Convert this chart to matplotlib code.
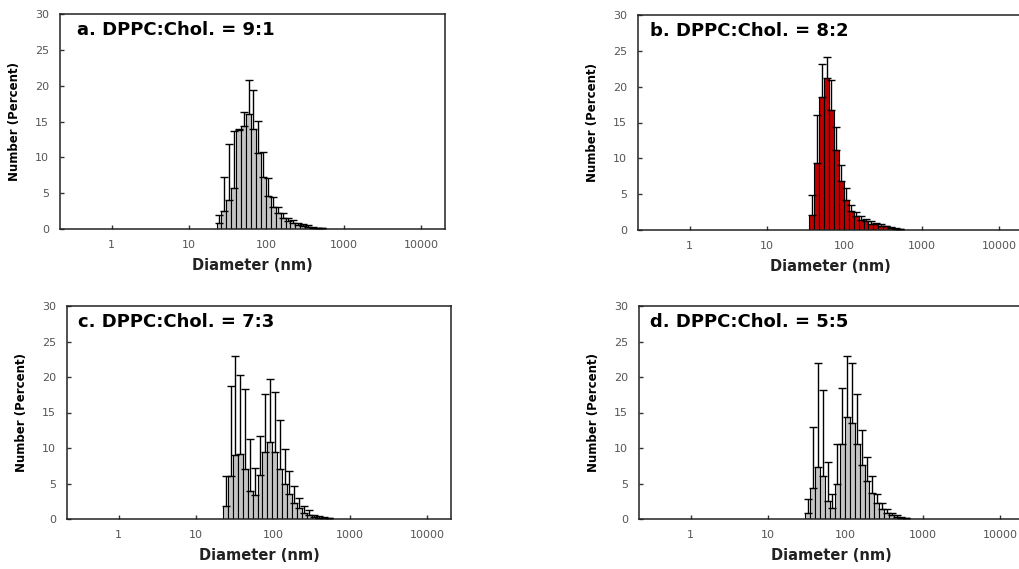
import matplotlib
matplotlib.use('Agg')
import matplotlib.pyplot as plt
import numpy as np

# Instrument size classes (nm), geometric spacing
size_classes = [21.04, 24.36, 28.21, 32.67, 37.84, 43.82, 50.75, 58.77, 68.06, 78.82,
                91.28, 105.7, 122.4, 141.8, 164.2, 190.1, 220.2, 255.0, 295.3, 342.0,
                396.1, 458.7, 531.2, 615.1, 712.4]

titles = ['a. DPPC:Chol. = 9:1', 'b. DPPC:Chol. = 8:2',
          'c. DPPC:Chol. = 7:3', 'd. DPPC:Chol. = 5:5']

# first size class of each panel (nm)
start_a, start_b, start_c, start_d = 24.36, 37.84, 24.36, 32.67

vals_a = [0.8, 2.5, 4.0, 5.7, 13.8, 14.4, 16.0, 14.0, 10.6, 7.2, 4.6, 3.1, 2.2, 1.5,
          1.1, 0.8, 0.6, 0.4, 0.3, 0.2, 0.1, 0.1]
err_a = [1.1, 4.8, 7.9, 8.0, 0.2, 1.9, 4.8, 5.4, 4.5, 3.6, 2.5, 1.3, 0.9, 0.7,
         0.5, 0.4, 0.3, 0.3, 0.2, 0.1, 0.1, 0.05]

vals_b = [2.1, 9.3, 18.6, 21.2, 16.8, 11.2, 6.8, 4.2, 2.6, 1.9, 1.4, 1.2, 0.9, 0.8,
          0.6, 0.5, 0.3, 0.2, 0.1]
err_b = [2.8, 6.8, 4.6, 3.0, 4.1, 3.2, 2.3, 1.6, 0.9, 0.6, 0.5, 0.3, 0.3, 0.2,
         0.2, 0.1, 0.1, 0.1, 0.1]

vals_c = [1.9, 6.1, 9.0, 9.2, 7.1, 4.0, 3.4, 6.2, 9.4, 10.8, 9.4, 7.1, 4.9, 3.5,
          2.2, 1.5, 0.9, 0.6, 0.3, 0.2, 0.15, 0.1]
err_c = [4.1, 12.7, 13.9, 11.1, 11.2, 7.3, 3.8, 5.5, 8.2, 8.9, 8.5, 6.9, 4.9, 3.2,
         2.4, 1.5, 1.0, 0.6, 0.3, 0.2, 0.1, 0.05]

vals_d = [0.8, 4.3, 7.3, 6.0, 2.6, 1.6, 4.9, 10.5, 14.3, 13.5, 10.5, 7.6, 5.3, 3.6,
          2.2, 1.4, 0.8, 0.55, 0.35, 0.2, 0.1]
err_d = [2.0, 8.7, 14.7, 12.1, 5.4, 1.9, 5.7, 8.0, 8.6, 8.5, 7.1, 5.0, 3.5, 2.4,
         1.3, 0.8, 0.6, 0.25, 0.15, 0.1, 0.05]

xticks = [1, 10, 100, 1000, 10000]
xticklabels = ['1', '10', '100', '1000', '10000']
yticks = [0, 5, 10, 15, 20, 25, 30]

W, H = 1020, 569
fig = plt.figure(figsize=(W / 100, H / 100), dpi=100)

# axes boxes in pixels: left, right, top, bottom
boxes = [(60, 445, 14, 229), (638, 1023, 15, 230),
         (67, 451, 306, 519), (639, 1024, 306, 519)]
title_dx = [17, 12, 11, 11]

panels = [(start_a, vals_a, err_a, '#c4c4c4'),
          (start_b, vals_b, err_b, '#c00000'),
          (start_c, vals_c, err_c, '#c4c4c4'),
          (start_d, vals_d, err_d, '#c4c4c4')]

ratio = size_classes[1] / size_classes[0]
half = np.sqrt(ratio)

for (l, r, t, b), (start, vals, err, color), title, tdx in zip(boxes, panels, titles, title_dx):
    ax = fig.add_axes([l / W, (H - b) / H, (r - l) / W, (b - t) / H])
    i0 = size_classes.index(start)
    d = np.array(size_classes[i0:i0 + len(vals)])
    left = d / half
    width = d * half - left
    ax.bar(left, vals, width=width, align='edge', color=color,
           edgecolor='black', linewidth=0.8, zorder=2)
    ax.errorbar(d, vals, yerr=[np.zeros(len(err)), err], fmt='none',
                ecolor='black', elinewidth=1.0, capsize=3, capthick=1.0, zorder=3)
    ax.set_xscale('log')
    ax.set_xlim(10 ** -0.67, 10 ** 4.31)
    ax.set_ylim(0, 30)
    ax.set_xticks(xticks)
    ax.set_xticklabels(xticklabels)
    ax.xaxis.set_minor_locator(matplotlib.ticker.NullLocator())
    ax.set_yticks(yticks)
    ax.tick_params(direction='in', length=3, width=1, labelsize=8,
                   labelcolor='#555555', color='#333333')
    ax.tick_params(axis='x', pad=8)
    ax.tick_params(axis='y', pad=8)
    for s in ax.spines.values():
        s.set_linewidth(1.1)
        s.set_color('#222222')
    ax.set_ylabel('Number (Percent)', fontsize=8.5, fontweight='bold')
    ax.yaxis.set_label_coords(-39 / (r - l), 0.5)
    ax.set_xlabel('Diameter (nm)', fontsize=10.5, fontweight='bold', color='#222222')
    ax.xaxis.set_label_coords(0.5, -29 / (b - t))
    ax.text(tdx / (r - l), 1 - 16 / (b - t), title, transform=ax.transAxes,
            fontsize=13, fontweight='bold', va='center', ha='left')

fig.savefig('out.png', dpi=100)
